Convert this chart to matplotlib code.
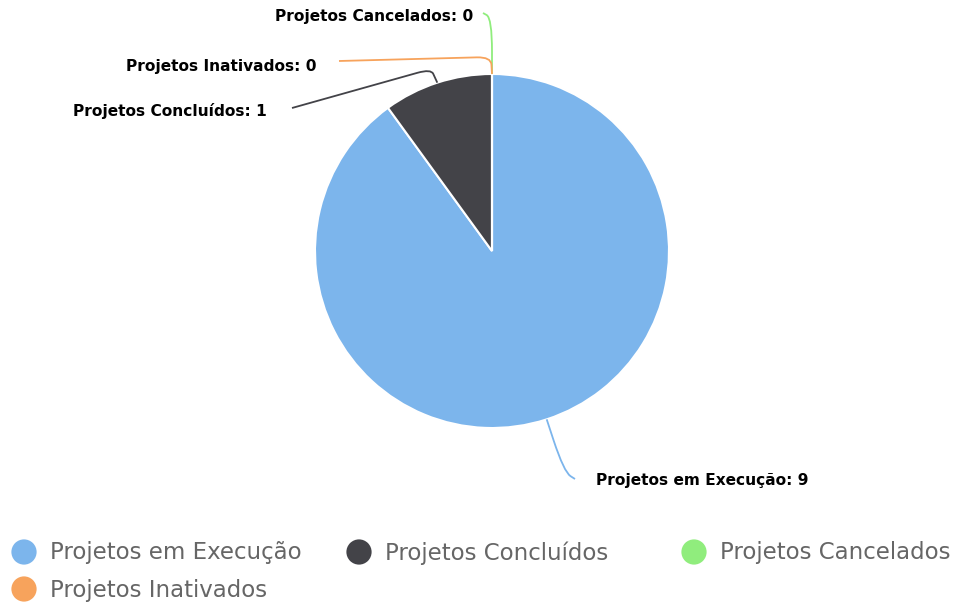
import numpy as np
import matplotlib
matplotlib.use("Agg")
from matplotlib import pyplot as plt
from matplotlib.path import Path
from matplotlib.patches import PathPatch

categories = ["Projetos em Execução", "Projetos Concluídos", "Projetos Cancelados", "Projetos Inativados"]
values = [9, 1, 0, 0]
colors = ["#7cb5ec", "#434348", "#90ed7d", "#f7a35c"]

W, H = 959, 606
fig = plt.figure(figsize=(W / 100, H / 100), dpi=100)
ax = fig.add_axes([0, 0, 1, 1])

cx, cy, r = 492, 251, 177

# y axis runs downward (pixel space), so counterclock in data = clockwise on screen
wedges, _ = ax.pie(values, colors=colors, center=(cx, cy), radius=r,
                   startangle=-90, counterclock=True,
                   wedgeprops=dict(edgecolor="white", linewidth=1.5), frame=True)
ax.set_xlim(0, W)
ax.set_ylim(H, 0)
ax.set_aspect("equal")
ax.axis("off")

# label layout: (text x, text y, ha, knee point, line end, corner softness)
layout = {
    "Projetos em Execução": (596, 481, "left", (564, 472), (575, 479), 0.6),
    "Projetos Concluídos": (267, 111, "right", (431, 69), (292, 108), 0.35),
    "Projetos Cancelados": (473, 17, "right", (492, 18), (483, 13), 0.6),
    "Projetos Inativados": (316, 66, "right", (491, 57), (339, 61), 0.45),
}


def soft_path(p0, k, p1, f):
    p0, k, p1 = map(np.asarray, (p0, k, p1))
    a = k + (p0 - k) * f
    b = k + (p1 - k) * min(f, 14 / np.hypot(*(p1 - k)))
    verts = [p0, a, k, b, p1]
    codes = [Path.MOVETO, Path.LINETO, Path.CURVE3, Path.CURVE3, Path.LINETO]
    return Path(verts, codes)


total = sum(values)
start = 90.0
for name, val, col in zip(categories, values, colors):
    sweep = 360.0 * val / total
    mid = np.radians(start - sweep / 2)
    start -= sweep
    px = cx + r * np.cos(mid)
    py = cy - r * np.sin(mid)
    tx, ty, ha, knee, end, f = layout[name]
    ax.add_patch(PathPatch(soft_path((px, py), knee, end, f), facecolor="none",
                           edgecolor=col, lw=1.3))
    ax.text(tx, ty, f"{name}: {val}", ha=ha, va="center", fontsize=11.1,
            fontweight="bold", color="black")

# legend
leg_pos = [(24, 552), (359, 552), (694, 552), (24, 589)]
for (lx, ly), name, col in zip(leg_pos, categories, colors):
    ax.scatter([lx], [ly], s=330, color=col, edgecolors="none")
    ax.text(lx + 26, ly + 1, name, ha="left", va="center", fontsize=16.5, color="#666666")

fig.savefig("out.png", dpi=100)
